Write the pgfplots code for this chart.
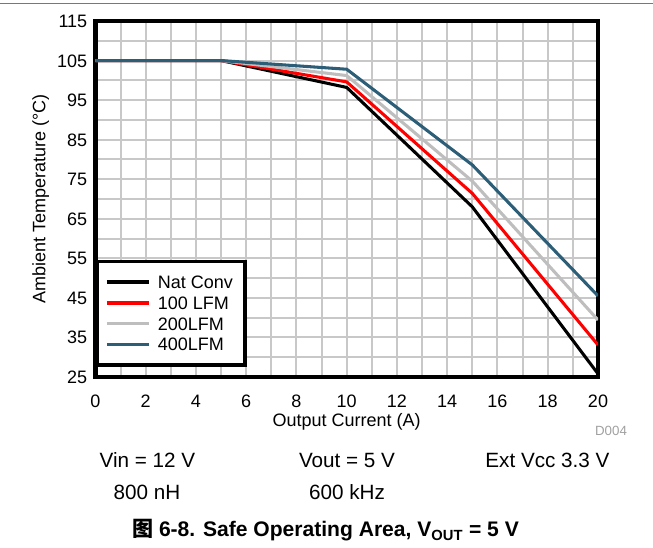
\documentclass[border=0pt]{standalone}
\usepackage{fontspec}
\setmainfont{Liberation Sans}
\newfontfamily\cjk{Noto Sans CJK SC}
\usepackage{pgfplots}
\pgfplotsset{compat=1.18}

\definecolor{gridgray}{RGB}{200,200,200}
\definecolor{lfmgray}{RGB}{190,190,190}
\definecolor{lfmblue}{RGB}{44,94,120}
\definecolor{rulegray}{RGB}{120,120,120}
\definecolor{idgray}{RGB}{160,160,160}

\newcommand\axfont{\fontsize{13.5pt}{16pt}\selectfont}
\newcommand\notefont{\fontsize{15.5pt}{18pt}\selectfont}

\begin{document}
\begin{tikzpicture}
\path[use as bounding box] (0,0) rectangle (489.75pt,411pt);
\draw[rulegray, line width=1.2pt] (0,408.5pt) -- (489.75pt,408.5pt);

\begin{axis}[
  at={(71.6pt,128.25pt)}, anchor=south west,
  scale only axis, width=376.9pt, height=267pt,
  xmin=0, xmax=20, ymin=25, ymax=115,
  xtick={0,2,...,20}, minor x tick num=1,
  ytick={25,35,...,115}, minor y tick num=1,
  grid=both,
  major grid style={line width=1.5pt, gridgray},
  minor grid style={line width=1.5pt, gridgray},
  major tick length=0pt, minor tick length=0pt,
  axis line style={line width=3.4pt},
  /pgf/number format/assume math mode=true,
  tick label style={font=\axfont},
  xticklabel style={anchor=base, inner sep=0pt, yshift=-22.6pt},
  yticklabel style={anchor=east, inner sep=0pt, xshift=-6pt,
    text height=9.7pt, text depth=0pt},
  label style={font=\axfont},
  xlabel={Output Current (A)},
  xlabel style={at={(axis description cs:0.5,0)}, anchor=center, yshift=-33.5pt},
  ylabel={Ambient Temperature (°C)},
  ylabel style={at={(axis description cs:0,0.5)}, anchor=center, rotate=0, yshift=41pt},
  legend cell align=left,
  legend style={at={(axis description cs:0,0.029)}, anchor=south west,
    draw=black, line width=2.5pt, fill=white,
    font=\axfont, inner xsep=6pt, inner ysep=7.6pt, row sep=0pt, column sep=2.5pt,
    nodes={inner sep=3pt, text height=9.6pt, text depth=0pt}},
  legend image code/.code={\draw[#1, line width=2.5pt] (0pt,0pt) -- (31.5pt,0pt);},
  every axis plot/.append style={line width=2.3pt},
]
\addplot[black] coordinates {(0,105) (5,105) (10,98.2) (15,68.0) (20,25.8)};
\addlegendentry{Nat Conv}
\addplot[red] coordinates {(0,105) (5,105) (10,99.6) (15,71.4) (20,33.1)};
\addlegendentry{100 LFM}
\addplot[lfmgray] coordinates {(0,105) (5,105) (10,101.2) (15,74.5) (20,39.4)};
\addlegendentry{200LFM}
\addplot[lfmblue] coordinates {(0,105) (5,105) (10,102.8) (15,78.6) (20,45.5)};
\addlegendentry{400LFM}
\end{axis}

\node[idgray, font=\fontsize{10pt}{12pt}\selectfont, anchor=center] at (458.25pt,88pt) {D004};

\node[font=\notefont, anchor=base, inner sep=0pt] at (110.6pt,60pt) {Vin = 12 V};
\node[font=\notefont, anchor=base, inner sep=0pt] at (260.25pt,60pt) {Vout = 5 V};
\node[font=\notefont, anchor=base, inner sep=0pt] at (410.6pt,60pt) {Ext Vcc 3.3 V};
\node[font=\notefont, anchor=base, inner sep=0pt] at (110.25pt,36.4pt) {800 nH};
\node[font=\notefont, anchor=base, inner sep=0pt] at (260.25pt,36.4pt) {600 kHz};

\node[font=\fontsize{15.8pt}{18pt}\selectfont\bfseries, anchor=base, inner sep=0pt] at (244.1pt,8.6pt)
  {{\cjk\bfseries 图} 6-8. Safe Operating Area, V\textsubscript{OUT} = 5 V};
\end{tikzpicture}
\end{document}
